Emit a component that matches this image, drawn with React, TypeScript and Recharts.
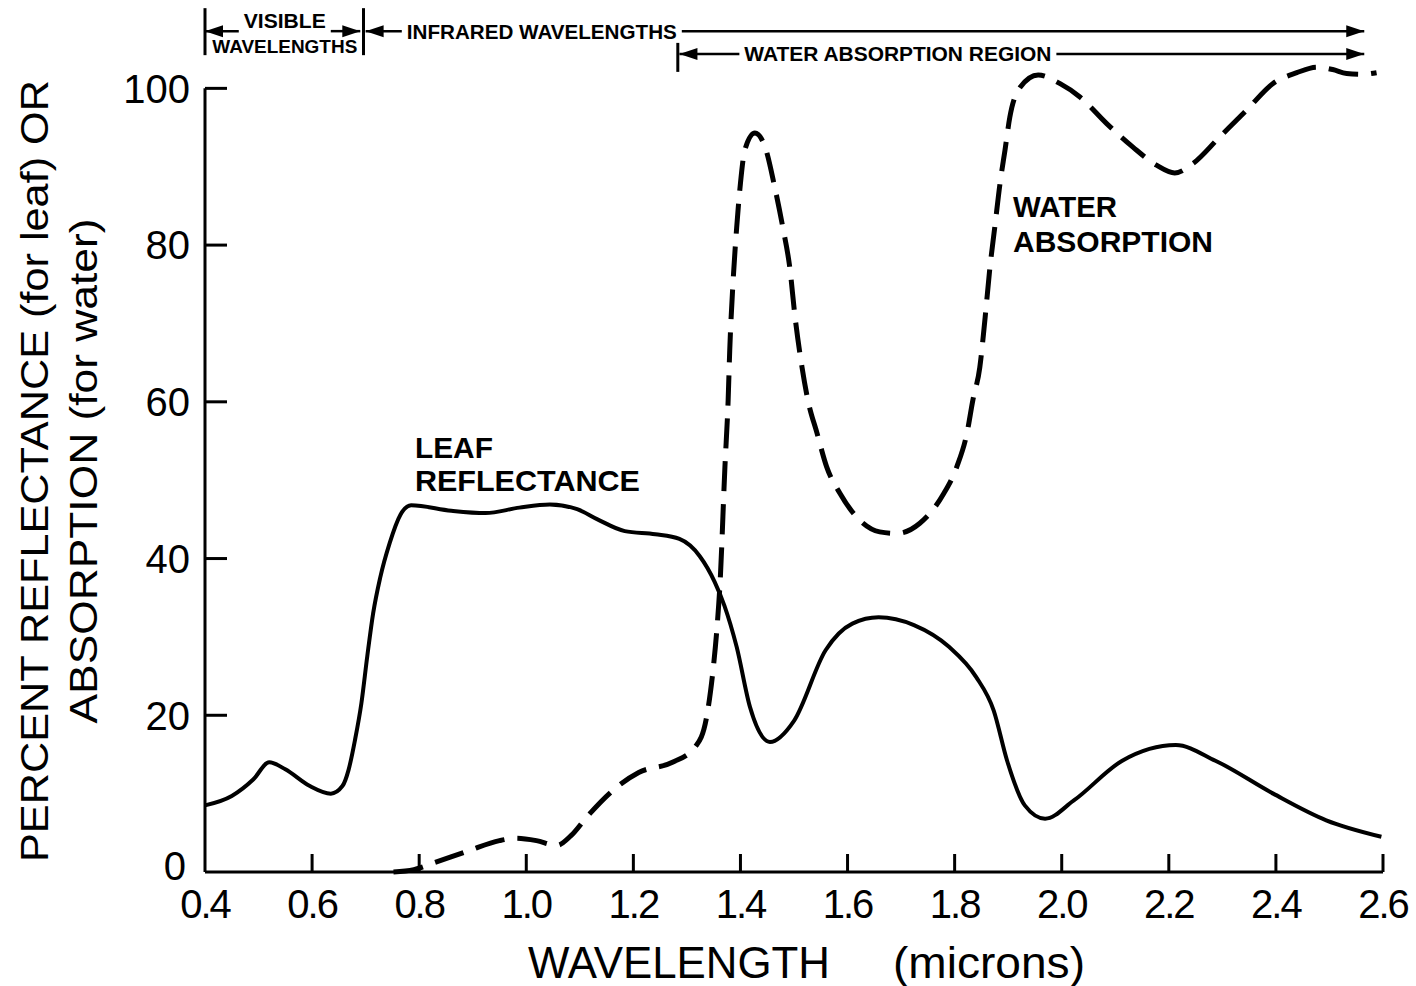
import React from "react";
import {
  LineChart,
  Line,
  XAxis,
  YAxis,
  ReferenceLine,
  ReferenceDot,
  Label,
} from "recharts";

const FONT = '"Liberation Sans", Arial, sans-serif';
const INK = "#000";

// axis ticks
const xTicks = [0.4, 0.6, 0.8, 1.0, 1.2, 1.4, 1.6, 1.8, 2.0, 2.2, 2.4, 2.6];
const yTicks = [0, 20, 40, 60, 80, 100];

// leaf reflectance (solid curve)
const leafWavelengths = [
  0.4, 0.45, 0.49, 0.52, 0.55, 0.595, 0.635, 0.657, 0.668, 0.68, 0.692, 0.703,
  0.714, 0.727, 0.745, 0.765, 0.785, 0.86, 0.924, 0.987, 1.044, 1.095, 1.133,
  1.184, 1.241, 1.286, 1.324, 1.352, 1.37, 1.393, 1.418, 1.455, 1.5, 1.559,
  1.609, 1.658, 1.724, 1.79, 1.84, 1.873, 1.898, 1.931, 1.969, 2.022, 2.113,
  2.213, 2.287, 2.395, 2.494, 2.597,
];
const leafPercent = [
  8.5, 9.7, 11.8, 14.0, 13.1, 11.0, 10.0, 11.0, 13.0, 16.8, 21.5, 27.5, 33.0,
  37.5, 42.0, 45.6, 46.8, 46.1, 45.8, 46.5, 46.9, 46.3, 45.0, 43.5, 43.1, 42.5,
  40.3, 37.0, 34.0, 28.7, 21.0, 16.6, 19.3, 28.3, 31.7, 32.5, 31.5, 28.7, 24.9,
  20.6, 14.2, 8.5, 6.8, 9.1, 14.2, 16.2, 14.2, 10.0, 6.6, 4.5,
];

// water absorption (dashed curve)
const waterWavelengths = [
  0.752, 0.79, 0.829, 0.892, 0.95, 0.981, 1.019, 1.057, 1.083, 1.114, 1.165,
  1.21, 1.273, 1.317, 1.336, 1.349, 1.356, 1.362, 1.371, 1.377, 1.38, 1.386,
  1.393, 1.4, 1.408, 1.427, 1.446, 1.464, 1.479, 1.492, 1.502, 1.515, 1.526,
  1.543, 1.561, 1.586, 1.617, 1.66, 1.692, 1.735, 1.778, 1.804, 1.823, 1.834,
  1.847, 1.857, 1.866, 1.875, 1.885, 1.894, 1.903, 1.922, 1.956, 1.997, 2.034,
  2.084, 2.133, 2.177, 2.211, 2.245, 2.295, 2.345, 2.394, 2.439, 2.476, 2.506,
  2.532, 2.562, 2.588,
];
const waterPercent = [
  0, 0.3, 1.2, 2.7, 4.0, 4.3, 4.0, 3.4, 4.6, 7.1, 10.6, 12.7, 14.0, 16.1, 19.5,
  25.9, 31.0, 37.0, 51.7, 60.2, 66.6, 75.1, 82.3, 87.9, 92.1, 94.3, 92.5, 87.4,
  82.3, 77.2, 70.8, 64.4, 60.2, 56.0, 51.7, 48.3, 45.3, 43.4, 43.2, 44.5, 48.1,
  51.7, 56.0, 60.2, 64.4, 70.8, 77.2, 82.3, 88.0, 92.1, 96.3, 100.1, 101.7,
  100.6, 98.9, 95.5, 92.5, 90.2, 89.2, 90.4, 93.8, 97.2, 100.6, 102.0, 102.7,
  102.4, 101.9, 101.8, 102.0,
];

const leafData = leafWavelengths.map((wl, i) => ({ wl, pct: leafPercent[i] }));
const waterData = waterWavelengths.map((wl, i) => ({ wl, pct: waterPercent[i] }));

// header spans (wavelength ranges and the row they sit in, in % units)
const ROW_TOP = 107.3;
const ROW_LOW = 104.4;
const visibleRange = [0.4, 0.69];
const infraredRange = [0.7, 2.565];
const waterRegionRange = [1.286, 2.565];

const Y_MARGIN = 15;
const X_MARGIN = 18;

function arrow(x: number, y: number, dir: number) {
  const len = 18;
  const half = 6;
  return (
    <polygon
      points={`${x},${y} ${x - dir * len},${y - half} ${x - dir * len},${y + half}`}
      fill={INK}
    />
  );
}

type SpanCfg = {
  from: number;
  to: number;
  text: string;
  textAt: number;
  textWidth: number;
  fontSize: number;
  baseline: number;
  sub?: { text: string; width: number; fontSize: number; baseline: number };
  bars: { at: number; top: number; bottom: number }[];
};

function makeSpan(cfg: SpanCfg) {
  return (p: any) => {
    const { x1, x2, y1 } = p;
    const toPx = (wl: number) =>
      x1 + ((wl - cfg.from) / (cfg.to - cfg.from)) * (x2 - x1);
    const tc = toPx(cfg.textAt);
    const half = cfg.textWidth / 2;
    return (
      <g>
        <line x1={x1} x2={tc - half - 5} y1={y1} y2={y1} stroke={INK} strokeWidth={2.5} />
        <line x1={tc + half + 5} x2={x2} y1={y1} y2={y1} stroke={INK} strokeWidth={2.5} />
        {arrow(x1, y1, -1)}
        {arrow(x2, y1, 1)}
        {cfg.bars.map((b, i) => {
          const bx = toPx(b.at);
          return (
            <line key={i} x1={bx} x2={bx} y1={y1 + b.top} y2={y1 + b.bottom} stroke={INK} strokeWidth={3} />
          );
        })}
        <text
          x={tc - half}
          y={y1 + cfg.baseline}
          textLength={cfg.textWidth}
          lengthAdjust="spacingAndGlyphs"
          fontFamily={FONT}
          fontWeight="bold"
          fontSize={cfg.fontSize}
          fill={INK}
        >
          {cfg.text}
        </text>
        {cfg.sub && (
          <text
            x={tc - cfg.sub.width / 2}
            y={y1 + cfg.sub.baseline}
            textLength={cfg.sub.width}
            lengthAdjust="spacingAndGlyphs"
            fontFamily={FONT}
            fontWeight="bold"
            fontSize={cfg.sub.fontSize}
            fill={INK}
          >
            {cfg.sub.text}
          </text>
        )}
      </g>
    );
  };
}

const visibleShape = makeSpan({
  from: visibleRange[0],
  to: visibleRange[1],
  text: "VISIBLE",
  textAt: 0.549,
  textWidth: 82,
  fontSize: 21,
  baseline: -3,
  sub: { text: "WAVELENGTHS", width: 145, fontSize: 19, baseline: 22 },
  bars: [
    { at: 0.4, top: -23, bottom: 24 },
    { at: 0.696, top: -23, bottom: 24 },
  ],
});

const infraredShape = makeSpan({
  from: infraredRange[0],
  to: infraredRange[1],
  text: "INFRARED WAVELENGTHS",
  textAt: 1.029,
  textWidth: 270,
  fontSize: 21,
  baseline: 8,
  bars: [],
});

const waterRegionShape = makeSpan({
  from: waterRegionRange[0],
  to: waterRegionRange[1],
  text: "WATER ABSORPTION REGION",
  textAt: 1.694,
  textWidth: 307,
  fontSize: 20,
  baseline: 7,
  bars: [{ at: 1.283, top: -11, bottom: 18 }],
});

function textBlock(lines: string[], widths: number[], gap: number) {
  return (p: any) => (
    <g>
      {lines.map((t, i) => (
        <text
          key={t}
          x={p.cx}
          y={p.cy + i * gap}
          textLength={widths[i]}
          lengthAdjust="spacingAndGlyphs"
          fontFamily={FONT}
          fontWeight="bold"
          fontSize={30}
          fill={INK}
        >
          {t}
        </text>
      ))}
    </g>
  );
}

const YTick = (props: any) => {
  const { x, y, payload } = props;
  const axisX = x + Y_MARGIN;
  const isZero = payload.value === 0;
  return (
    <g>
      {!isZero && (
        <line x1={axisX} x2={axisX + 22} y1={y} y2={y} stroke={INK} strokeWidth={3} />
      )}
      <text
        x={isZero ? x - 4 : x}
        y={isZero ? y - 6 : y}
        dy="0.36em"
        textAnchor="end"
        fontFamily={FONT}
        fontSize={40}
        fill={INK}
      >
        {payload.value}
      </text>
    </g>
  );
};

const XTick = (props: any) => {
  const { x, y, payload } = props;
  const axisY = y - X_MARGIN;
  return (
    <g>
      {payload.value > 0.41 && (
        <line x1={x} x2={x} y1={axisY} y2={axisY - 18} stroke={INK} strokeWidth={3} />
      )}
      <text
        x={x}
        y={y}
        dy="0.71em"
        textAnchor="middle"
        fontFamily={FONT}
        fontSize={40}
        letterSpacing={-2}
        fill={INK}
      >
        {Number(payload.value).toFixed(1)}
      </text>
    </g>
  );
};

const XTitle = (props: any) => {
  const vb = props.viewBox;
  const base = vb.y + 106;
  return (
    <g fontFamily={FONT} fontSize={44} fill={INK}>
      <text x={vb.x + 323} y={base} textLength={302} lengthAdjust="spacingAndGlyphs">
        WAVELENGTH
      </text>
      <text x={vb.x + 688} y={base} textLength={192} lengthAdjust="spacingAndGlyphs">
        (microns)
      </text>
    </g>
  );
};

const YTitle = (props: any) => {
  const vb = props.viewBox;
  const cy = vb.y + 461;
  return (
    <g fontFamily={FONT} fontSize={39} fill={INK}>
      <text
        x={48}
        y={cy}
        textAnchor="middle"
        transform={`rotate(-90, 48, ${cy})`}
        textLength={782}
        lengthAdjust="spacingAndGlyphs"
      >
        PERCENT REFLECTANCE (for leaf) OR
      </text>
      <text
        x={97}
        y={cy}
        textAnchor="middle"
        transform={`rotate(-90, 97, ${cy})`}
        textLength={505}
        lengthAdjust="spacingAndGlyphs"
      >
        ABSORPTION (for water)
      </text>
    </g>
  );
};

export default function App() {
  return (
    <div style={{ position: "absolute", left: 0, top: 0, background: "#fff" }}>
      <LineChart
        width={1416}
        height={986}
        margin={{ top: 10, right: 33, bottom: 0, left: 0 }}
      >
        <XAxis
          dataKey="wl"
          type="number"
          domain={[0.4, 2.6]}
          ticks={xTicks}
          interval={0}
          height={114}
          tickSize={0}
          tickMargin={X_MARGIN}
          tick={<XTick />}
          axisLine={{ stroke: INK, strokeWidth: 3 }}
          label={<Label content={XTitle} />}
        />
        <YAxis
          type="number"
          domain={[0, 110]}
          ticks={yTicks}
          interval={0}
          width={205}
          tickSize={0}
          tickMargin={Y_MARGIN}
          tick={<YTick />}
          axisLine={false}
          label={<Label content={YTitle} />}
        />

        <ReferenceLine
          segment={[{ x: 0.4, y: 0 }, { x: 0.4, y: 100 }]}
          stroke={INK}
          strokeWidth={3}
        />

        <Line
          data={leafData}
          dataKey="pct"
          type="monotone"
          stroke={INK}
          strokeWidth={4}
          dot={false}
          isAnimationActive={false}
        />
        <Line
          data={waterData}
          dataKey="pct"
          type="monotone"
          stroke={INK}
          strokeWidth={5}
          strokeDasharray="30 13"
          dot={false}
          isAnimationActive={false}
        />

        <ReferenceLine
          segment={[{ x: visibleRange[0], y: ROW_TOP }, { x: visibleRange[1], y: ROW_TOP }]}
          ifOverflow="visible"
          shape={visibleShape}
        />
        <ReferenceLine
          segment={[{ x: infraredRange[0], y: ROW_TOP }, { x: infraredRange[1], y: ROW_TOP }]}
          ifOverflow="visible"
          shape={infraredShape}
        />
        <ReferenceLine
          segment={[{ x: waterRegionRange[0], y: ROW_LOW }, { x: waterRegionRange[1], y: ROW_LOW }]}
          ifOverflow="visible"
          shape={waterRegionShape}
        />

        <ReferenceDot
          x={0.792}
          y={52.8}
          r={0}
          ifOverflow="visible"
          shape={textBlock(["LEAF", "REFLECTANCE"], [78, 225], 33)}
        />
        <ReferenceDot
          x={1.909}
          y={83.6}
          r={0}
          ifOverflow="visible"
          shape={textBlock(["WATER", "ABSORPTION"], [104, 200], 35)}
        />
      </LineChart>
    </div>
  );
}
